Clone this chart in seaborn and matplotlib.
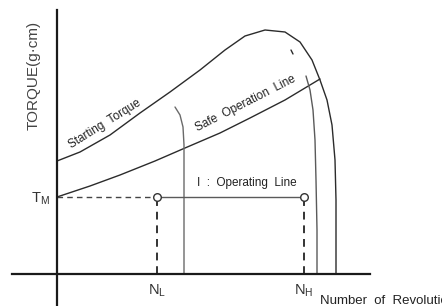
import numpy as np
import pandas as pd
import matplotlib
matplotlib.use('Agg')
import matplotlib.pyplot as plt
import seaborn as sns

# Torque-speed characteristic (schematic units: x = revolutions, y = torque)
start_x = [0, 23, 53, 83, 113, 143, 168, 188, 208, 228, 243, 255, 263, 270, 275, 278, 279, 279, 279]
start_y = [113, 122, 139, 161, 182, 204, 224, 238, 244, 242, 232, 214, 194, 174, 149, 114, 74, 34, 0]

safe_x = [0, 33, 63, 98, 128, 163, 193, 228, 263]
safe_y = [77, 88, 99, 113, 126, 141, 156, 174, 195]

inner_x = [249, 253, 256, 258, 259, 260, 260]
inner_y = [198, 184, 164, 134, 94, 44, 0]

low_x = [118, 123, 126, 127, 127, 127]
low_y = [167, 159, 147, 129, 74, 0]

tick_x = [234, 236]
tick_y = [224, 220]

TM = 77
NL = 100
NH = 247
op_x = [NL, NH]
op_y = [TM, TM]

sns.set_style('white')
plt.rcParams['font.family'] = ['Liberation Sans', 'DejaVu Sans']
plt.rcParams['mathtext.fontset'] = 'custom'
plt.rcParams['mathtext.rm'] = 'Liberation Sans'
plt.rcParams['mathtext.it'] = 'Liberation Sans'

fig = plt.figure(figsize=(4.42, 3.06), dpi=100)
ax = fig.add_axes([0, 0, 1, 1])
ax.set_xlim(-57, 385)
ax.set_ylim(-32, 274)

dark = '#2b2b2b'
gray = '#5a5a5a'

def curve(xs, ys, color, lw):
    df = pd.DataFrame({'x': xs, 'y': ys})
    sns.lineplot(data=df, x='x', y='y', sort=False, estimator=None,
                 color=color, lw=lw, ax=ax)

curve(start_x, start_y, dark, 1.0)
curve(safe_x, safe_y, dark, 1.0)
curve(inner_x, inner_y, gray, 1.0)
curve(low_x, low_y, '#6a6a6a', 1.0)
curve(tick_x, tick_y, dark, 1.0)
curve(op_x, op_y, gray, 1.0)

# dashed guide lines
ax.plot([0, NL], [TM, TM], ls=(0, (4, 3)), color='#444444', lw=1.0)
for xv in op_x:
    ax.plot([xv, xv], [0, TM], ls=(0, (4, 3)), color='#333333', lw=1.4)

pts = pd.DataFrame({'x': op_x, 'y': op_y})
sns.scatterplot(data=pts, x='x', y='y', s=30, facecolor='white',
                edgecolor='#333333', linewidth=1.0, zorder=5, ax=ax)

# axes drawn as crossing spines
for side in ['top', 'right']:
    ax.spines[side].set_visible(False)
ax.spines['left'].set_position(('data', 0))
ax.spines['bottom'].set_position(('data', 0))
ax.spines['left'].set_bounds(-32, 264)
ax.spines['bottom'].set_bounds(-45, 313)
for side in ['left', 'bottom']:
    ax.spines[side].set_linewidth(1.6)
    ax.spines[side].set_color('#1a1a1a')

ax.set_xticks(op_x, labels=[r'N$_{\rm L}$', r'N$_{\rm H}$'])
ax.set_yticks([TM], labels=[r'T$_{\rm M}$'])
ax.tick_params(axis='x', length=0, pad=6, labelsize=10.5, colors='#333333')
ax.tick_params(axis='y', length=0, pad=5, labelsize=10.5, colors='#333333')
ax.set_xlabel('')
ax.set_ylabel('')

ax.text(-23, 199, 'TORQUE(g·cm)', rotation=90, ha='center', va='center',
        fontsize=11, color='#444444')
ax.text(263, -27, 'Number  of  Revolution', ha='left', va='center',
        fontsize=9.5, color='#222222')
ax.text(48, 150, 'Starting  Torque', rotation=32, ha='center', va='center',
        fontsize=8.5, color='#222222')
ax.text(189, 170, 'Safe  Operation  Line', rotation=27, ha='center', va='center',
        fontsize=8.5, color='#222222')
ax.text(190, 91, 'I  :  Operating  Line', ha='center', va='center',
        fontsize=8.5, color='#222222')

fig.savefig('out.png', dpi=100)
